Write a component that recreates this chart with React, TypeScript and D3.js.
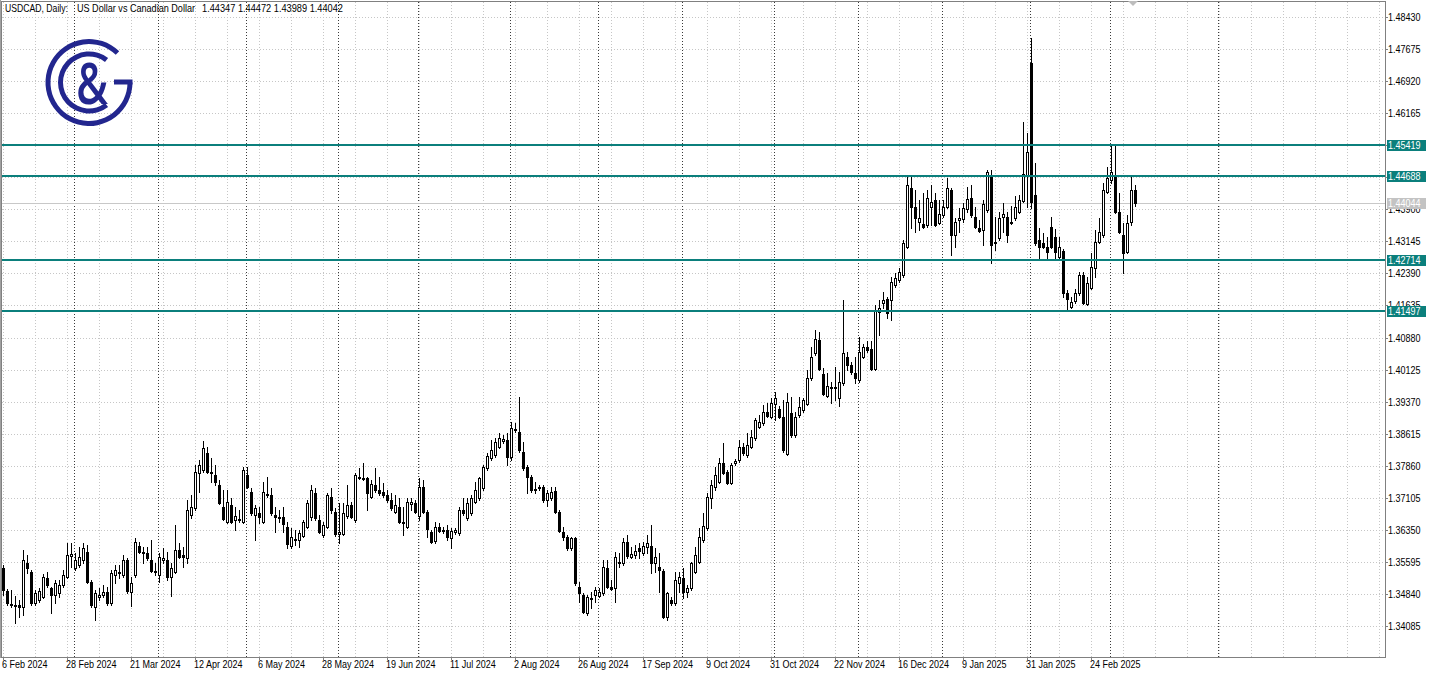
import React, { useEffect } from "react";
import * as d3 from "d3";

// ---------- DATA ----------
const symbolTitle = "USDCAD, Daily:";
const description = "US Dollar vs Canadian Dollar";
const lastOHLC = ["1.44347", "1.44472", "1.43989", "1.44042"];

const opens = [
  1.3545,1.3491,1.3460,1.3458,1.3458,1.3453,1.3557,1.3536,1.3462,1.3470,
  1.3477,1.3521,1.3498,1.3481,1.3486,1.3505,1.3524,1.3573,1.3545,1.3552,
  1.3564,1.3583,1.3512,1.3453,1.3477,1.3481,1.3488,1.3462,1.3529,1.3533,
  1.3529,1.3564,1.3488,1.3529,1.3597,1.3583,1.3580,1.3564,1.3538,1.3529,
  1.3564,1.3564,1.3524,1.3536,1.3587,1.3576,1.3569,1.3670,1.3686,1.3769,
  1.3776,1.3816,1.3771,1.3764,1.3741,1.3689,1.3653,1.3694,1.3658,1.3660,
  1.3653,1.3764,1.3724,1.3670,1.3675,1.3653,1.3717,1.3717,1.3670,1.3665,
  1.3665,1.3642,1.3597,1.3611,1.3611,1.3620,1.3642,1.3665,1.3722,1.3658,
  1.3623,1.3642,1.3712,1.3677,1.3625,1.3625,1.3667,1.3694,1.3658,1.3757,
  1.3755,1.3757,1.3712,1.3741,1.3729,1.3724,1.3717,1.3705,1.3677,1.3689,
  1.3651,1.3642,1.3696,1.3698,1.3667,1.3736,1.3677,1.3630,1.3609,1.3642,
  1.3632,1.3635,1.3616,1.3630,1.3627,1.3682,1.3663,1.3675,1.3700,1.3710,
  1.3734,1.3781,1.3804,1.3811,1.3830,1.3844,1.3847,1.3807,1.3870,1.3865,
  1.3818,1.3783,1.3759,1.3729,1.3734,1.3736,1.3705,1.3710,1.3726,1.3677,
  1.3630,1.3618,1.3592,1.3616,1.3500,1.3481,1.3439,1.3472,1.3481,1.3479,
  1.3486,1.3545,1.3500,1.3498,1.3557,1.3557,1.3606,1.3571,1.3576,1.3592,
  1.3580,1.3595,1.3597,1.3557,1.3547,1.3538,1.3430,1.3470,1.3462,1.3509,
  1.3521,1.3488,1.3498,1.3536,1.3559,1.3611,1.3639,1.3710,1.3736,1.3748,
  1.3792,1.3771,1.3745,1.3792,1.3799,1.3830,1.3811,1.3830,1.3851,1.3877,
  1.3887,1.3912,1.3901,1.3931,1.3920,1.3901,1.3813,1.3910,1.3858,1.3905,
  1.3917,1.3931,1.3993,1.4051,1.4082,1.4002,1.3950,1.3969,1.3969,1.3945,
  1.3981,1.4042,1.4023,1.4004,1.3988,1.4042,1.4066,1.4061,1.4014,1.4148,
  1.4169,1.4179,1.4176,1.4212,1.4223,1.4235,1.4301,1.4440,1.4395,1.4360,
  1.4355,1.4353,1.4395,1.4412,1.4358,1.4376,1.4395,1.4435,1.4329,1.4365,
  1.4367,1.4391,1.4417,1.4371,1.4346,1.4341,1.4388,1.4471,1.4311,1.4322,
  1.4372,1.4372,1.4360,1.4369,1.4383,1.4410,1.4471,1.4735,1.4424,1.4318,
  1.4311,1.4301,1.4348,1.4325,1.4278,1.4292,1.4193,1.4160,1.4174,1.4193,
  1.4235,1.4167,1.4204,1.4252,1.4313,1.4329,1.4431,1.4459,1.4471,1.4383,
  1.4329,1.4289,1.4360,1.44347,
];

const highs = [
  1.3552,1.3495,1.3493,1.3479,1.3470,1.3587,1.3576,1.3540,1.3493,1.3498,
  1.3531,1.3535,1.3500,1.3517,1.3517,1.3540,1.3604,1.3604,1.3580,1.3595,
  1.3604,1.3599,1.3517,1.3493,1.3498,1.3505,1.3500,1.3540,1.3552,1.3552,
  1.3576,1.3569,1.3524,1.3616,1.3606,1.3595,1.3595,1.3611,1.3557,1.3580,
  1.3592,1.3583,1.3557,1.3646,1.3604,1.3595,1.3705,1.3717,1.3788,1.3799,
  1.3844,1.3830,1.3804,1.3788,1.3752,1.3729,1.3729,1.3710,1.3689,1.3682,
  1.3783,1.3783,1.3734,1.3694,1.3689,1.3748,1.3759,1.3734,1.3689,1.3682,
  1.3689,1.3653,1.3639,1.3635,1.3635,1.3658,1.3705,1.3741,1.3734,1.3670,
  1.3653,1.3722,1.3734,1.3686,1.3698,1.3698,1.3741,1.3700,1.3769,1.3781,
  1.3793,1.3759,1.3752,1.3781,1.3759,1.3745,1.3729,1.3722,1.3717,1.3710,
  1.3689,1.3710,1.3710,1.3705,1.3757,1.3752,1.3682,1.3635,1.3653,1.3651,
  1.3642,1.3646,1.3639,1.3639,1.3689,1.3710,1.3710,1.3717,1.3748,1.3759,
  1.3788,1.3816,1.3847,1.3851,1.3863,1.3858,1.3863,1.3889,1.3887,1.3948,
  1.3842,1.3788,1.3764,1.3748,1.3741,1.3741,1.3729,1.3736,1.3736,1.3682,
  1.3642,1.3623,1.3618,1.3618,1.3512,1.3486,1.3481,1.3488,1.3500,1.3498,
  1.3564,1.3564,1.3517,1.3583,1.3580,1.3616,1.3623,1.3595,1.3599,1.3604,
  1.3606,1.3623,1.3646,1.3592,1.3580,1.3543,1.3488,1.3477,1.3536,1.3536,
  1.3545,1.3505,1.3559,1.3595,1.3639,1.3675,1.3722,1.3752,1.3783,1.3804,
  1.3839,1.3776,1.3792,1.3802,1.3847,1.3839,1.3863,1.3870,1.3898,1.3905,
  1.3929,1.3934,1.3945,1.3960,1.3927,1.3941,1.3957,1.3948,1.3912,1.3948,
  1.3945,1.4011,1.4066,1.4106,1.4101,1.4016,1.4004,1.3983,1.4018,1.4007,
  1.4176,1.4054,1.4030,1.4042,1.4089,1.4073,1.4080,1.4080,1.4164,1.4176,
  1.4195,1.4183,1.4230,1.4240,1.4252,1.4318,1.4466,1.4466,1.4435,1.4412,
  1.4428,1.4435,1.4447,1.4428,1.4412,1.4412,1.4464,1.4440,1.4369,1.4393,
  1.4405,1.4442,1.4447,1.4395,1.4365,1.4412,1.4483,1.4483,1.4372,1.4383,
  1.4405,1.4383,1.4398,1.4421,1.4424,1.4596,1.4570,1.4793,1.4499,1.4346,
  1.4334,1.4325,1.4372,1.4344,1.4325,1.4296,1.4200,1.4183,1.4202,1.4242,
  1.4242,1.4230,1.4287,1.4341,1.4369,1.4452,1.4490,1.4541,1.4541,1.4428,
  1.4358,1.4376,1.4471,1.44472,
];

const lows = [
  1.3481,1.3458,1.3453,1.3416,1.3430,1.3434,1.3533,1.3458,1.3458,1.3465,
  1.3474,1.3500,1.3439,1.3462,1.3477,1.3500,1.3521,1.3547,1.3540,1.3547,
  1.3557,1.3510,1.3453,1.3422,1.3470,1.3477,1.3458,1.3458,1.3509,1.3521,
  1.3524,1.3486,1.3455,1.3524,1.3580,1.3557,1.3564,1.3536,1.3529,1.3512,
  1.3557,1.3517,1.3479,1.3533,1.3569,1.3547,1.3557,1.3663,1.3682,1.3724,
  1.3771,1.3769,1.3748,1.3741,1.3696,1.3658,1.3651,1.3651,1.3635,1.3653,
  1.3651,1.3734,1.3670,1.3611,1.3651,1.3651,1.3712,1.3670,1.3630,1.3653,
  1.3630,1.3592,1.3592,1.3599,1.3595,1.3618,1.3639,1.3658,1.3658,1.3627,
  1.3618,1.3639,1.3675,1.3620,1.3604,1.3623,1.3663,1.3663,1.3653,1.3755,
  1.3752,1.3682,1.3710,1.3724,1.3717,1.3712,1.3700,1.3682,1.3675,1.3651,
  1.3623,1.3639,1.3682,1.3675,1.3658,1.3675,1.3618,1.3604,1.3604,1.3630,
  1.3627,1.3611,1.3592,1.3625,1.3623,1.3670,1.3658,1.3670,1.3698,1.3705,
  1.3729,1.3776,1.3799,1.3807,1.3828,1.3840,1.3788,1.3799,1.3865,1.3818,
  1.3776,1.3722,1.3724,1.3722,1.3729,1.3700,1.3691,1.3705,1.3675,1.3630,
  1.3611,1.3587,1.3587,1.3505,1.3465,1.3439,1.3434,1.3451,1.3465,1.3477,
  1.3481,1.3498,1.3493,1.3465,1.3547,1.3552,1.3569,1.3569,1.3569,1.3569,
  1.3576,1.3580,1.3533,1.3536,1.3488,1.3427,1.3422,1.3458,1.3458,1.3488,
  1.3474,1.3477,1.3493,1.3533,1.3557,1.3606,1.3635,1.3686,1.3729,1.3745,
  1.3767,1.3743,1.3743,1.3788,1.3795,1.3811,1.3807,1.3828,1.3847,1.3875,
  1.3882,1.3901,1.3898,1.3894,1.3898,1.3818,1.3811,1.3854,1.3854,1.3901,
  1.3912,1.3929,1.3988,1.4047,1.4011,1.3953,1.3948,1.3934,1.3941,1.3927,
  1.3976,1.4011,1.4002,1.3981,1.3983,1.4040,1.4054,1.4011,1.4011,1.4094,
  1.4157,1.4134,1.4129,1.4207,1.4219,1.4230,1.4299,1.4346,1.4336,1.4341,
  1.4346,1.4348,1.4353,1.4351,1.4355,1.4371,1.4393,1.4282,1.4301,1.4336,
  1.4360,1.4383,1.4371,1.4346,1.4336,1.4306,1.4383,1.4263,1.4294,1.4318,
  1.4336,1.4313,1.4355,1.4365,1.4381,1.4407,1.4395,1.4393,1.4306,1.4270,
  1.4299,1.4273,1.4299,1.4270,1.4275,1.4183,1.4153,1.4157,1.4169,1.4188,
  1.4167,1.4164,1.4202,1.4230,1.4311,1.4325,1.4428,1.4452,1.4381,1.4334,
  1.4240,1.4287,1.4353,1.43989,
];

const closes = [
  1.3493,1.3462,1.3458,1.3456,1.3453,1.3564,1.3545,1.3462,1.3486,1.3491,
  1.3524,1.3505,1.3481,1.3509,1.3505,1.3529,1.3576,1.3578,1.3564,1.3571,
  1.3592,1.3512,1.3458,1.3486,1.3481,1.3488,1.3462,1.3533,1.3540,1.3536,
  1.3564,1.3491,1.3509,1.3606,1.3583,1.3580,1.3569,1.3538,1.3536,1.3571,
  1.3569,1.3524,1.3545,1.3587,1.3571,1.3571,1.3682,1.3689,1.3771,1.3788,
  1.3828,1.3771,1.3769,1.3748,1.3698,1.3660,1.3700,1.3653,1.3667,1.3658,
  1.3776,1.3736,1.3675,1.3686,1.3665,1.3724,1.3719,1.3675,1.3665,1.3663,
  1.3649,1.3602,1.3618,1.3613,1.3627,1.3653,1.3698,1.3729,1.3663,1.3630,
  1.3646,1.3717,1.3682,1.3625,1.3630,1.3675,1.3694,1.3665,1.3764,1.3759,
  1.3757,1.3722,1.3743,1.3729,1.3722,1.3717,1.3705,1.3686,1.3694,1.3653,
  1.3653,1.3700,1.3700,1.3677,1.3736,1.3677,1.3637,1.3606,1.3642,1.3632,
  1.3635,1.3618,1.3632,1.3635,1.3682,1.3675,1.3698,1.3710,1.3729,1.3757,
  1.3783,1.3809,1.3823,1.3842,1.3851,1.3849,1.3807,1.3875,1.3872,1.3823,
  1.3781,1.3759,1.3729,1.3731,1.3736,1.3705,1.3722,1.3724,1.3677,1.3632,
  1.3618,1.3592,1.3616,1.3509,1.3486,1.3441,1.3477,1.3474,1.3493,1.3488,
  1.3547,1.3500,1.3495,1.3571,1.3559,1.3606,1.3573,1.3578,1.3585,1.3585,
  1.3597,1.3604,1.3557,1.3571,1.3540,1.3430,1.3486,1.3462,1.3517,1.3524,
  1.3488,1.3498,1.3557,1.3576,1.3618,1.3644,1.3712,1.3741,1.3764,1.3792,
  1.3769,1.3745,1.3788,1.3797,1.3830,1.3816,1.3835,1.3854,1.3894,1.3889,
  1.3912,1.3903,1.3934,1.3945,1.3901,1.3823,1.3936,1.3858,1.3901,1.3924,
  1.3941,1.3993,1.4042,1.4084,1.4014,1.3955,1.3974,1.3972,1.3972,1.3983,
  1.4051,1.4023,1.4007,1.3993,1.4054,1.4066,1.4058,1.4014,1.4153,1.4157,
  1.4176,1.4146,1.4218,1.4228,1.4242,1.4311,1.4447,1.4395,1.4369,1.4369,
  1.4348,1.4417,1.4407,1.4353,1.4379,1.4395,1.4440,1.4329,1.4360,1.4369,
  1.4393,1.4414,1.4376,1.4348,1.4339,1.4402,1.4478,1.4306,1.4313,1.4369,
  1.4379,1.4329,1.4358,1.4395,1.4412,1.4473,1.4525,1.4407,1.4311,1.4301,
  1.4301,1.4289,1.4301,1.4289,1.4301,1.4193,1.4179,1.4172,1.4193,1.4235,
  1.4169,1.4216,1.4254,1.4313,1.4336,1.4435,1.4464,1.4478,1.4383,1.4336,
  1.4287,1.4358,1.4435,1.44042,
];

const dateLabels = [
  "6 Feb 2024", "28 Feb 2024", "21 Mar 2024", "12 Apr 2024", "6 May 2024",
  "28 May 2024", "19 Jun 2024", "11 Jul 2024", "2 Aug 2024", "26 Aug 2024",
  "17 Sep 2024", "9 Oct 2024", "31 Oct 2024", "22 Nov 2024", "16 Dec 2024",
  "9 Jan 2025", "31 Jan 2025", "24 Feb 2025",
];
const labelStepBars = 16;
const gridStepBars = 8;
// first bar of each month (period separators)
const monthStartBars = [18, 39, 61, 84, 104, 127, 149, 170, 193, 214, 235, 257, 277, 304];

const priceTicks = [
  1.34085, 1.3484, 1.35595, 1.3635, 1.37105, 1.3786, 1.38615, 1.3937, 1.40125, 1.4088,
  1.41635, 1.4239, 1.43145, 1.439, 1.44655, 1.4541, 1.46165, 1.4692, 1.47675, 1.4843,
];
const levelPrices = [1.45419, 1.44688, 1.42714, 1.41497];
const bidPrice = 1.44044;

// ---------- STYLE ----------
const FONT = "'Liberation Sans', Arial, Helvetica, sans-serif";
const W = 1432;
const H = 674;
const PLOT_R = 1385;
const PLOT_B = 657;
const TEAL = "#0b7f7c";
const NAVY = "#22268e";

function Logo() {
  const cx = 89, cy = 82.5;
  const outer = d3.arc()({
    innerRadius: 38.5, outerRadius: 43.5,
    startAngle: -Math.PI * 1.5, endAngle: (44 * Math.PI) / 180,
  } as any) as string;
  const inner = d3.arc()({
    innerRadius: 26, outerRadius: 31,
    startAngle: (-218 * Math.PI) / 180, endAngle: (38 * Math.PI) / 180,
  } as any) as string;
  return (
    <g>
      <g transform={`translate(${cx},${cy})`}>
        <path d={outer} fill={NAVY} />
        <path d={inner} fill={NAVY} />
        <rect x={25} y={-3} width={18.5} height={5} fill={NAVY} />
      </g>
      <text
        transform={`translate(92,104) scale(0.74,1)`}
        textAnchor="middle"
        fontFamily="'Open Sans', 'DejaVu Sans', sans-serif"
        fontWeight={600}
        fontSize={58}
        fill={NAVY}
      >
        &amp;
      </text>
    </g>
  );
}

export default function App() {
  useEffect(() => {
    document.body.style.margin = "0";
  }, []);

  const x = d3.scaleLinear().domain([0, 1]).range([3, 7]);
  const y = d3
    .scaleLinear()
    .domain([priceTicks[0], priceTicks[priceTicks.length - 1]])
    .range([626, 17]);

  const gridBars = d3.range(0, 400, gridStepBars).filter((b) => x(b) < PLOT_R - 2);
  const py = (p: number) => Math.round(y(p));

  return (
    <svg
      width={W}
      height={H}
      style={{ position: "absolute", left: 0, top: 0, background: "#fff" }}
      fontFamily={FONT}
    >
      <rect x={0} y={0} width={W} height={H} fill="#fff" />

      {/* grid */}
      <g stroke="#c6c6c6" strokeWidth={1} strokeDasharray="1,2" shapeRendering="crispEdges">
        {priceTicks.map((t) => (
          <line key={"h" + t} x1={2} x2={PLOT_R} y1={py(t) + 0.5} y2={py(t) + 0.5} />
        ))}
        {gridBars.map((b) => (
          <line key={"v" + b} x1={x(b) + 0.5} x2={x(b) + 0.5} y1={2} y2={PLOT_B} />
        ))}
      </g>

      {/* period separators */}
      <g stroke="#3a3a3a" strokeWidth={1} strokeDasharray="1,2" shapeRendering="crispEdges">
        {monthStartBars.map((b) => (
          <line key={"s" + b} x1={x(b) - 0.5} x2={x(b) - 0.5} y1={2} y2={PLOT_B} />
        ))}
      </g>

      {/* bid line */}
      <line
        x1={2} x2={PLOT_R} y1={py(bidPrice) + 0.5} y2={py(bidPrice) + 0.5}
        stroke="#c8c8c8" strokeWidth={1} shapeRendering="crispEdges"
      />

      {/* header */}
      <g fontSize={10.5} fill="#000">
        <text x={5} y={12} textLength={63} lengthAdjust="spacingAndGlyphs">{symbolTitle}</text>
        <text x={77} y={12} textLength={118} lengthAdjust="spacingAndGlyphs">{description}</text>
        <text x={202} y={12} textLength={141} lengthAdjust="spacingAndGlyphs">{lastOHLC.join(" ")}</text>
      </g>

      <Logo />

      {/* candles */}
      <g shapeRendering="crispEdges">
        {opens.map((o, i) => {
          const c = closes[i];
          const cx = Math.round(x(i));
          const yH = py(highs[i]);
          const yL = py(lows[i]);
          const yO = py(o);
          const yC = py(c);
          const top = Math.min(yO, yC);
          const bot = Math.max(yO, yC);
          const bull = c >= o;
          return (
            <g key={i}>
              <line x1={cx + 0.5} x2={cx + 0.5} y1={yH} y2={yL + 1} stroke="#000" />
              {bot - top >= 1 ? (
                <rect
                  x={cx - 0.5} y={top + 0.5} width={2} height={bot - top}
                  fill={bull ? "#fff" : "#000"} stroke="#000"
                />
              ) : (
                <line x1={cx - 1} x2={cx + 2} y1={top + 0.5} y2={top + 0.5} stroke="#000" />
              )}
            </g>
          );
        })}
      </g>

      {/* horizontal levels */}
      <g stroke={TEAL} strokeWidth={2} shapeRendering="crispEdges">
        {levelPrices.map((p) => (
          <line key={"l" + p} x1={2} x2={PLOT_R} y1={py(p)} y2={py(p)} />
        ))}
      </g>

      {/* frame */}
      <g fill="none" stroke="#808080" shapeRendering="crispEdges">
        <line x1={0.5} x2={0.5} y1={0} y2={PLOT_B + 1} stroke="#a0a0a0" />
        <rect x={1.5} y={1.5} width={PLOT_R - 1.5} height={PLOT_B - 1.5} />
      </g>

      {/* price axis */}
      <g fontSize={10} fill="#000">
        {priceTicks.map((t) => (
          <g key={"p" + t}>
            <line x1={PLOT_R} x2={PLOT_R + 3} y1={py(t) + 0.5} y2={py(t) + 0.5} stroke="#808080" shapeRendering="crispEdges" />
            <text transform={`translate(${PLOT_R + 3},${py(t) + 4}) scale(0.9,1)`}>{t.toFixed(5)}</text>
          </g>
        ))}
      </g>

      {/* bid label */}
      <g>
        <rect x={PLOT_R + 2} y={py(bidPrice) - 5} width={39} height={11} fill="#c3c3c3" />
        <text transform={`translate(${PLOT_R + 3},${py(bidPrice) + 4}) scale(0.9,1)`} fontSize={10} fill="#fff">
          {bidPrice.toFixed(5)}
        </text>
      </g>

      {/* level labels */}
      {levelPrices.map((p) => (
        <g key={"lb" + p}>
          <rect x={PLOT_R + 2} y={py(p) - 5} width={39} height={11} fill={TEAL} />
          <text transform={`translate(${PLOT_R + 3},${py(p) + 4}) scale(0.9,1)`} fontSize={10} fill="#fff">
            {p.toFixed(5)}
          </text>
        </g>
      ))}

      {/* time axis */}
      <g fontSize={10} fill="#000">
        {dateLabels.map((d, k) => {
          const bx = Math.round(x(k * labelStepBars));
          return (
            <g key={"d" + k}>
              <line x1={bx + 0.5} x2={bx + 0.5} y1={PLOT_B} y2={PLOT_B + 3} stroke="#808080" shapeRendering="crispEdges" />
              <text transform={`translate(${bx - 1},668) scale(0.9,1)`}>{d}</text>
            </g>
          );
        })}
      </g>

      {/* chart shift marker */}
      <polygon points="1128,1 1138,1 1133,6" fill="#bdbdbd" />
    </svg>
  );
}
